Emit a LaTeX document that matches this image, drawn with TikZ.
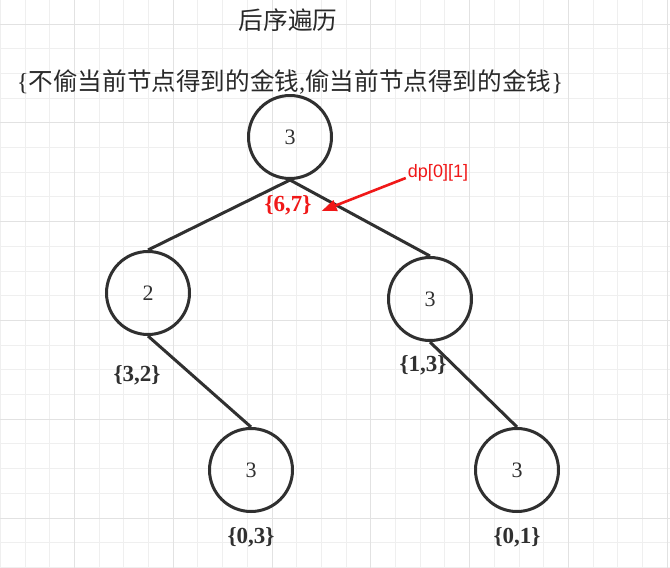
\documentclass[tikz,border=0pt]{standalone}
\usepackage{fontspec}
\setmainfont{Liberation Serif}
\newfontfamily\cjk{Noto Sans CJK SC}
\newfontfamily\arial{Liberation Sans}
\usetikzlibrary{arrows.meta}
\definecolor{trait}{HTML}{303030}
\definecolor{grille}{HTML}{EFEFEF}
\definecolor{grillefort}{HTML}{E2E2E2}
\definecolor{rouge}{HTML}{F01818}

\begin{document}
\begin{tikzpicture}[x=1pt,y=-1pt]
        \tikzstyle{sommet}=[circle, draw=trait, line width=3pt, minimum size=83pt, inner sep=0, text=trait, font=\fontsize{22}{22}\selectfont];
        \tikzstyle{valeur}=[inner sep=0, text=trait, font=\fontsize{23}{23}\selectfont\bfseries];
        \tikzstyle{arete}=[draw=trait, line width=3pt];
        \tikzstyle{entete}=[inner sep=0, text=trait!85!black, font=\cjk\fontsize{24.6}{24.6}\selectfont];

        \useasboundingbox (0,0) rectangle (670,568);
        \fill[white] (0,0) rectangle (670,568);

        \foreach \k in {-1,...,26}{
          \draw[grille, line width=1pt] ({25+24.7*\k},0) -- ({25+24.7*\k},568);
        }
        \foreach \k in {0,...,22}{
          \draw[grille, line width=1pt] (0,{24+24.7*\k}) -- (670,{24+24.7*\k});
        }
        \foreach \k in {2,6,...,26}{
          \draw[grillefort, line width=1pt] ({25+24.7*\k},0) -- ({25+24.7*\k},568);
        }
        \foreach \k in {0,4,...,20}{
          \draw[grillefort, line width=1pt] (0,{24+24.7*\k}) -- (670,{24+24.7*\k});
        }

        \node[entete] (titre) at (288,20) {后序遍历};
        \node[entete] (legende) at (290,82) {{\rmfamily\{}不偷当前节点得到的金钱{\rmfamily,}偷当前节点得到的金钱{\rmfamily\}}};

        \node[sommet] (racine) at (290,137) {3};
        \node[sommet] (g) at (148,293) {2};
        \node[sommet] (d) at (430,299) {3};
        \node[sommet] (gd) at (251,470) {3};
        \node[sommet] (dd) at (517,470) {3};

        \draw[arete] (racine.south) -- (g.north);
        \draw[arete] (racine.south) -- (d.north);
        \draw[arete] (g.south) -- (gd.north);
        \draw[arete] (d.south) -- (dd.north);

        \node[valeur, text=rouge] (vracine) at (288,205) {\{6,7\}};
        \node[valeur] (vg) at (137,375) {\{3,2\}};
        \node[valeur] (vd) at (423,365) {\{1,3\}};
        \node[valeur] (vgd) at (251,537) {\{0,3\}};
        \node[valeur] (vdd) at (517,537) {\{0,1\}};

        \node[inner sep=0, text=rouge, font=\arial\fontsize{18}{18}\selectfont] (dp) at (438,173) {dp[0][1]};
        \draw[rouge, line width=2.6pt, -{Triangle[length=15pt, width=11pt]}] ([xshift=-2pt, yshift=-5pt]dp.west) -- ([xshift=10pt, yshift=-6pt]vracine.east);
    \end{tikzpicture}
\end{document}
